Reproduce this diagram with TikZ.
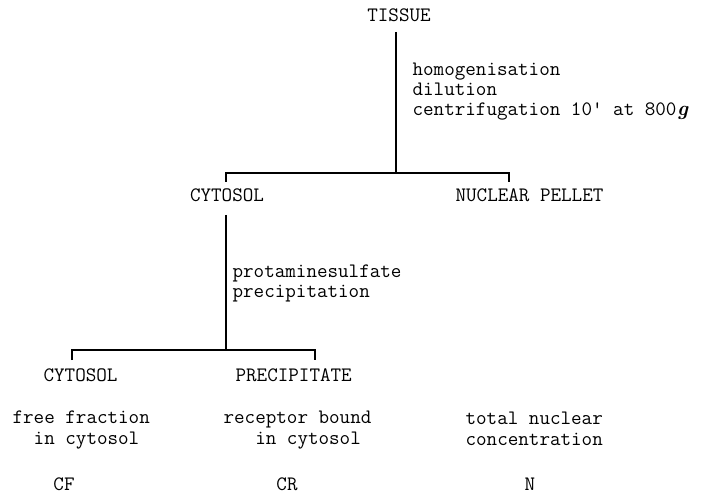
\documentclass[tikz,border=0pt]{standalone}
\usepackage{fontspec}
\usepackage{tikz}
\usetikzlibrary{positioning, calc}

\begin{document}
\begin{tikzpicture}[x=1pt, y=-1pt, line width=1.2pt,
  lbl/.style={font=\ttfamily\fontsize{20.5}{20}\selectfont, inner sep=0pt},
  note/.style={lbl, anchor=west, align=left},
  res/.style={lbl, anchor=west, align=left,
              font=\ttfamily\fontsize{20.5}{21}\selectfont}]

  \useasboundingbox (0,0) rectangle (704,494);

  % fractions
  \node[lbl] (tissue) at (399,15)  {TISSUE};
  \node[lbl] (cytoA)  at (227,195) {CYTOSOL};
  \node[lbl, anchor=west] (pellet) at (455,195) {NUCLEAR PELLET};
  \node[lbl, anchor=west] (cytoB)  at (43,375)  {CYTOSOL};
  \node[lbl, anchor=west] (precip) at (235,375) {PRECIPITATE};

  % steps
  \node[note] (stepA) at (412,92)
    {homogenisation\\dilution\\centrifugation 10' at 800\kern0.5pt{\rmfamily\bfseries\itshape g}};
  \node[note] (stepB) at (232,283) {protaminesulfate\\precipitation};

  % what is measured
  \node[res] (free)  at (12,430)  {free fraction\\\phantom{xx}in cytosol};
  \node[res] (bound) at (223,430) {receptor bound\\\phantom{xxx}in cytosol};
  \node[res] (total) at (465,429) {total nuclear\\concentration};
  \node[lbl] (cf) at (64,484)  {CF};
  \node[lbl] (cr) at (287,484) {CR};
  \node[lbl] (nn) at (530,484) {N};

  % connectors
  \coordinate (topA)  at (396,32);
  \coordinate (forkA) at (396,173);
  \coordinate (tickA) at (226,182);
  \coordinate (tickB) at (509,182);
  \coordinate (topB)  at (226,215);
  \coordinate (forkB) at (226,350);
  \coordinate (tickC) at (72,360);
  \coordinate (tickD) at (315,360);
  \draw (topA) -- (forkA);
  \draw (tickA) |- (forkA) -| (tickB);
  \draw (topB) -- (forkB);
  \draw (tickC) |- (forkB) -| (tickD);

\end{tikzpicture}
\end{document}
